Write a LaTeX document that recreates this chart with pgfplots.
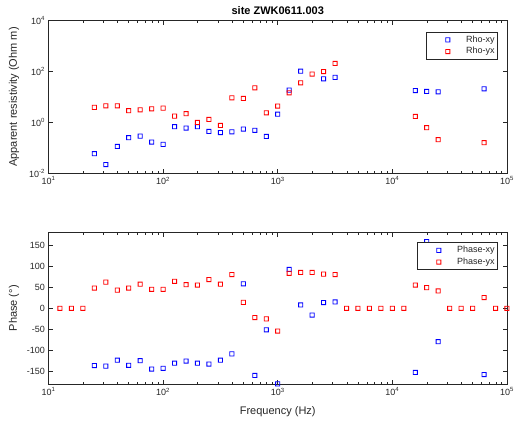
\documentclass[border=0pt]{standalone}
\usepackage{fontspec}
\setmainfont{Liberation Sans}
\usepackage{pgfplots}
\pgfplotsset{compat=1.18}

\definecolor{mblue}{rgb}{0,0,1}
\definecolor{mred}{rgb}{1,0,0}
\definecolor{mgray}{rgb}{0.15,0.15,0.15}

% open square drawn as a filled ring
\pgfdeclareplotmark{sqring}{%
  \pgfpathrectangle{\pgfpoint{-2.5pt}{-2.5pt}}{\pgfpoint{5pt}{5pt}}%
  \pgfpathrectangle{\pgfpoint{-1.65pt}{-1.65pt}}{\pgfpoint{3.3pt}{3.3pt}}%
  \pgfseteorule\pgfusepathqfill}

\pgfplotsset{
  mtlb/.style={
    scale only axis, width=458.5pt,
    xmin=10, xmax=100000,
    xtick={10,100,1000,10000,100000},
    xticklabels={10\textsuperscript{1},10\textsuperscript{2},10\textsuperscript{3},10\textsuperscript{4},10\textsuperscript{5}},
    minor xtick={20,30,40,50,60,70,80,90,200,300,400,500,600,700,800,900,
      2000,3000,4000,5000,6000,7000,8000,9000,20000,30000,40000,50000,60000,70000,80000,90000},
    tick align=inside, major tick length=4.5pt, minor tick length=2.5pt,
    axis line style={draw=mgray, line width=0.5pt},
    every tick/.style={draw=mgray, line width=0.5pt},
    ticklabel style={font=\fontsize{9}{10}\selectfont, text=mgray},
    label style={font=\fontsize{11}{13}\selectfont, text=mgray},
    ylabel style={at={(axis description cs:-0.075,0.5)}, anchor=center, rotate=0},
    clip=false,
    legend cell align=left,
    legend style={draw=mgray, line width=0.5pt, inner xsep=1pt, inner ysep=2.5pt,
      row sep=1.4pt, anchor=north east,
      nodes={font=\fontsize{9}{10}\selectfont, text=mgray, inner ysep=1pt,
        text height=6.5pt, text depth=1.8pt}},
  },
  bmark/.style={only marks, mark=sqring, color=mblue, fill=mblue},
  rmark/.style={only marks, mark=sqring, color=mred, fill=mred},
}

\begin{document}
\begin{tikzpicture}
\path[use as bounding box] (0,0) rectangle (515pt,423pt);

% resistivity
\begin{axis}[xmode=log, ymode=log, mtlb, at={(48.5pt,249.7pt)}, anchor=south west, height=152.6pt,
  ymin=0.01, ymax=10000,
  ytick={0.01,1,100,10000},
  yticklabels={10\textsuperscript{-2},10\textsuperscript{0},10\textsuperscript{2},10\textsuperscript{4}},
  minor ytick={},
  ylabel={Apparent resistivity (Ohm m)},
  title={site ZWK0611.003},
  title style={font=\fontsize{11}{13}\selectfont\bfseries, text=black, at={(0.5,1)}, anchor=south, yshift=-3.5pt},
  legend image code/.code={\path (0pt,0pt) (36.7pt,0pt);
    \draw[#1] plot coordinates {(20.7pt,0pt)};},
  legend style={at={(rel axis cs:0.980,0.926)}}]
\addplot[bmark] coordinates {
  (25.12,0.059) (31.62,0.022) (39.81,0.114) (50.12,0.25) (63.10,0.29)
  (79.43,0.17) (100,0.137) (125.9,0.68) (158.5,0.60) (199.5,0.68)
  (251.2,0.44) (316.2,0.40) (398.1,0.43) (501.2,0.55) (631.0,0.49)
  (794.3,0.28) (1000,2.1) (1259,18.6) (1585,103) (2512,52) (3162,59)
  (15849,18) (19953,16.5) (25119,16) (63096,21)};
\addplot[rmark] coordinates {
  (25.12,3.9) (31.62,4.5) (39.81,4.5) (50.12,2.9) (63.10,3.15)
  (79.43,3.45) (100,3.66) (125.9,1.77) (158.5,2.2) (199.5,1.0)
  (251.2,1.31) (316.2,0.76) (398.1,9.3) (501.2,8.8) (631.0,23)
  (794.3,2.4) (1000,4.4) (1259,14.6) (1585,36) (1995,80) (2512,100)
  (3162,208) (15849,1.72) (19953,0.62) (25119,0.21) (63096,0.16)};
\legend{Rho-xy, Rho-yx}
\end{axis}

% phase
\begin{axis}[xmode=log, mtlb, at={(48.5pt,38.7pt)}, anchor=south west, height=152pt,
  ymin=-180, ymax=180,
  ytick={-150,-100,-50,0,50,100,150},
  yticklabels={-150,-100,-50,0,50,100,150},
  ylabel={Phase (°)},
  xlabel={Frequency (Hz)},
  xlabel style={at={(axis description cs:0.5,-0.18)}, anchor=center},
  legend image code/.code={\path (0pt,0pt) (36.7pt,0pt);
    \draw[#1] plot coordinates {(20.7pt,0pt)};},
  legend style={at={(rel axis cs:0.980,0.933)}}]
\addplot[bmark] coordinates {
  (25.12,-135.6) (31.62,-137) (39.81,-123) (50.12,-135) (63.10,-124)
  (79.43,-144) (100,-142) (125.9,-130) (158.5,-125) (199.5,-130)
  (251.2,-132) (316.2,-123) (398.1,-108) (501.2,58) (631.0,-159)
  (794.3,-51) (1000,-179) (1259,92) (1585,8) (1995,-16) (2512,13.6)
  (3162,15) (15849,-152) (19953,158) (25119,-79) (63096,-157)};
\addplot[rmark] coordinates {
  (12.59,0) (15.85,0) (19.95,0) (25.12,48) (31.62,62) (39.81,43)
  (50.12,48) (63.10,57) (79.43,45) (100,45) (125.9,64) (158.5,56)
  (199.5,55) (251.2,68) (316.2,57) (398.1,80) (501.2,14) (631.0,-22)
  (794.3,-25) (1000,-54) (1259,83) (1585,85) (1995,85) (2512,81)
  (3162,80) (3981,0) (5012,0) (6310,0) (7943,0) (10000,0) (12589,0)
  (15849,55) (19953,49) (25119,41) (31623,0) (39811,0) (50119,0)
  (63096,25.5) (79433,0) (100000,0)};
\legend{Phase-xy, Phase-yx}
\end{axis}
\end{tikzpicture}
\end{document}
